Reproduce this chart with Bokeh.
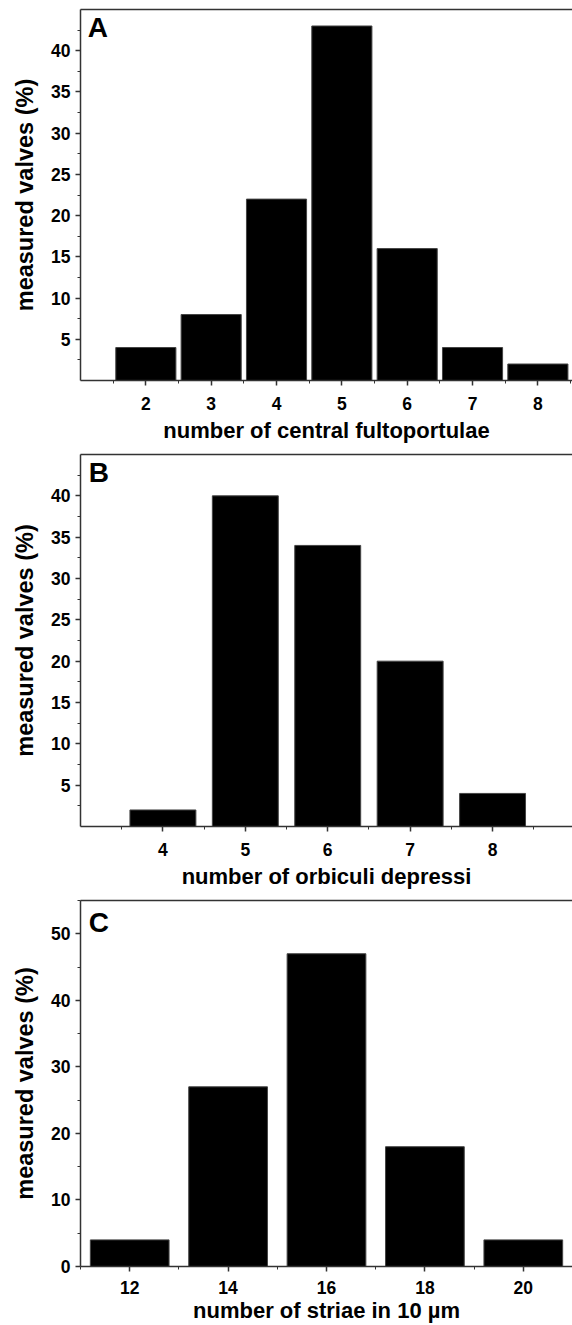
from bokeh.plotting import figure
from bokeh.models import LinearAxis, FixedTicker, Range1d, Label
from bokeh.layouts import column
from bokeh.embed import file_html
from bokeh.resources import INLINE

# Panel A
a_cats = [2, 3, 4, 5, 6, 7, 8]
a_vals = [4, 8, 22, 43, 16, 4, 2]
a_xticks = [2, 3, 4, 5, 6, 7, 8]
a_yticks = [5, 10, 15, 20, 25, 30, 35, 40]

# Panel B
b_cats = [4, 5, 6, 7, 8]
b_vals = [2, 40, 34, 20, 4]
b_xticks = [4, 5, 6, 7, 8]
b_yticks = [5, 10, 15, 20, 25, 30, 35, 40]

# Panel C
c_cats = [12, 14, 16, 18, 20]
c_vals = [4, 27, 47, 18, 4]
c_xticks = [12, 14, 16, 18, 20]
c_yticks = [0, 10, 20, 30, 40, 50]

FONT = "Liberation Sans"
AXC = "#333333"


def panel(cats, vals, xticks, xminor, yticks, yminor, xr, yr, barw, xlabel, letter,
          lpos, height, top, bottom, lab_so, title_so):
    p = figure(width=572, height=height, output_backend="svg",
               toolbar_location=None, x_range=Range1d(*xr), y_range=Range1d(*yr),
               x_axis_type=None, y_axis_type=None,
               min_border_left=80, min_border_right=0,
               min_border_top=top, min_border_bottom=bottom)
    p.grid.visible = False
    p.outline_line_color = None
    p.background_fill_color = "white"
    p.border_fill_color = "white"
    p.vbar(x=cats, top=vals, width=barw, bottom=0, fill_color="black",
           line_color="#444444", line_width=1)

    xa = LinearAxis(ticker=FixedTicker(ticks=xticks, minor_ticks=xminor))
    ya = LinearAxis(ticker=FixedTicker(ticks=yticks, minor_ticks=yminor))
    for ax in (xa, ya):
        ax.axis_line_color = AXC
        ax.axis_line_width = 1.5
        ax.major_tick_line_color = AXC
        ax.minor_tick_line_color = AXC
        ax.major_tick_line_width = 1.5
        ax.major_tick_out = 5
        ax.major_tick_in = 0
        ax.minor_tick_out = 3
        ax.minor_tick_in = 0
        ax.major_label_text_font = FONT
        ax.major_label_text_font_style = "bold"
        ax.major_label_text_font_size = "17.5px"
        ax.major_label_text_color = "black"
        ax.axis_label_text_font = FONT
        ax.axis_label_text_font_style = "bold"
        ax.axis_label_text_color = "black"
    xa.axis_label = xlabel
    xa.axis_label_text_font_size = "22px"
    xa.major_label_standoff = lab_so
    xa.axis_label_standoff = title_so
    ya.axis_label = "measured valves (%)"
    ya.axis_label_text_font_size = "23.5px"
    ya.major_label_standoff = 5
    ya.axis_label_standoff = 10
    p.add_layout(xa, "below")
    p.add_layout(ya, "left")

    ta = LinearAxis(ticker=FixedTicker(ticks=[]))
    ta.axis_line_color = AXC
    ta.axis_line_width = 1.5
    ta.major_tick_out = 0
    ta.minor_tick_out = 0
    ta.major_label_text_font_size = "0px"
    ta.major_label_standoff = 0
    p.add_layout(ta, "above")

    p.add_layout(Label(x=lpos[0], y=lpos[1], text=letter, text_font=FONT,
                       text_font_style="bold", text_font_size="28px",
                       text_color="black", text_baseline="top", text_align="left"))
    return p


pA = panel(a_cats, a_vals, a_xticks, [1.5 + i for i in range(8)], a_yticks,
           [2.5 + 5 * i for i in range(9)], (1, 8.53), (0, 45), 0.92,
           "number of central fultoportulae", "A", (1.11, 44.65),
           447, 9, 67, 11, 5)
pB = panel(b_cats, b_vals, b_xticks, [3.5 + i for i in range(6)], b_yticks,
           [2.5 + 5 * i for i in range(9)], (3, 8.97), (0, 45), 0.8,
           "number of orbiculi depressi", "B", (3.10, 44.64),
           446, 7, 67, 11, 5)
pC = panel(c_cats, c_vals, c_xticks, [11 + 2 * i for i in range(6)], c_yticks,
           [5 + 10 * i for i in range(6)], (11, 21), (0, 55), 1.6,
           "number of striae in 10 µm", "C", (11.17, 53.95),
           432, 7, 59, 9, 1)

layout = column(pA, pB, pC, spacing=0)
open("out.html", "w").write(file_html(layout, INLINE))
